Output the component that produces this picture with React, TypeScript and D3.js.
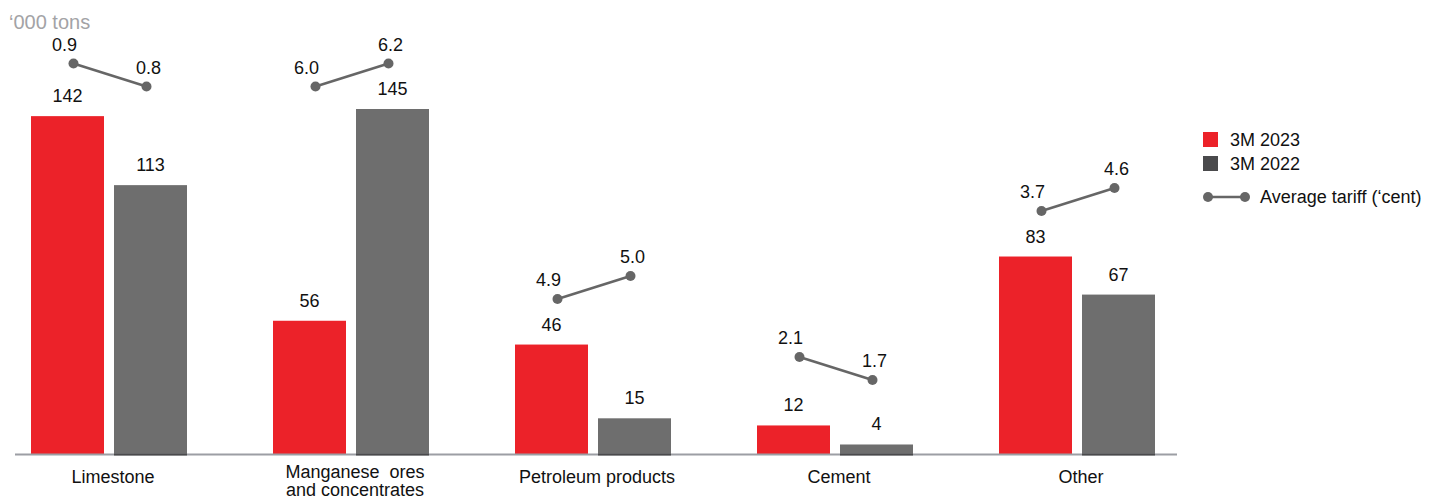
import React from "react";
import * as d3 from "d3";

// Freight volumes by cargo type, thousand tons
const categories = ["Limestone", "Manganese  ores\nand concentrates", "Petroleum products", "Cement", "Other"];
const volume2023 = [142, 56, 46, 12, 83];
const volume2022 = [113, 145, 15, 4, 67];
// Average tariff, cents
const tariff2023 = [0.9, 6.0, 4.9, 2.1, 3.7];
const tariff2022 = [0.8, 6.2, 5.0, 1.7, 4.6];
const seriesNames = ["3M 2023", "3M 2022"];
const tariffName = "Average tariff (\u2018cent)";
const unitLabel = "\u2018000 tons";

const W = 1429;
const H = 499;
const RED = "#ec2229";
const GREY = "#6e6e6e";
const DARK = "#4a4a4c";
const FONT = "'Liberation Sans', Arial, Helvetica, sans-serif";

export default function App() {
  const baseline = 454;
  const y = d3.scaleLinear().domain([0, 145]).range([baseline, baseline - 345]);
  const x = d3.scalePoint<string>().domain(categories).range([109, 1077]);
  const barW = 73;
  const gap = 10;

  const fmt = d3.format(".1f");

  return (
    <svg
      width={W}
      height={H}
      style={{ position: "absolute", left: 0, top: 0, background: "#fff" }}
      fontFamily={FONT}
    >
      <text x={9} y={29} fontSize={20} fill="#a3a3a6">
        {unitLabel}
      </text>

      {categories.map((c, i) => {
        const cx = x(c)!;
        const x23 = cx - gap / 2 - barW;
        const x22 = cx + gap / 2;
        const v23 = volume2023[i];
        const v22 = volume2022[i];
        const top23 = y(v23);
        const top22 = y(v22);
        // tariff pair sits above the taller bar, higher tariff drawn higher
        const mid = Math.max(y(Math.max(v23, v22)) - 57, 75);
        const t23 = tariff2023[i];
        const t22 = tariff2022[i];
        const half = 11.5;
        const ty23 = t23 >= t22 ? mid - half : mid + half;
        const ty22 = t22 > t23 ? mid - half : mid + half;
        const tx23 = x23 + barW / 2 + 6;
        const tx22 = x22 + barW / 2 - 4;
        const lines = c.split("\n");
        return (
          <g key={c}>
            <rect x={x23} y={top23} width={barW} height={baseline - top23} fill={RED} />
            <rect x={x22} y={top22} width={barW} height={baseline - top22} fill={GREY} />
            <text x={x23 + barW / 2} y={top23 - 14} fontSize={18} textAnchor="middle" fill="#111">
              {v23}
            </text>
            <text x={x22 + barW / 2} y={top22 - 14} fontSize={18} textAnchor="middle" fill="#111">
              {v22}
            </text>

            <line x1={tx23} y1={ty23} x2={tx22} y2={ty22} stroke="#666" strokeWidth={2.5} />
            <circle cx={tx23} cy={ty23} r={5} fill="#666" />
            <circle cx={tx22} cy={ty22} r={5} fill="#666" />
            <text x={tx23 - 9} y={ty23 - 13} fontSize={18} textAnchor="middle" fill="#111">
              {fmt(t23)}
            </text>
            <text x={tx22 + 2} y={ty22 - 13} fontSize={18} textAnchor="middle" fill="#111">
              {fmt(t22)}
            </text>

            <text x={cx + 4} y={483} fontSize={18} textAnchor="middle" fill="#111">
              {lines.map((l, k) => (
                <tspan key={k} x={cx + 4} dy={k === 0 ? (lines.length > 1 ? -5 : 0) : 18} style={{ whiteSpace: "pre" }}>
                  {l}
                </tspan>
              ))}
            </text>
          </g>
        );
      })}

      {/* baseline */}
      <line x1={15} x2={1177} y1={baseline + 0.5} y2={baseline + 0.5} stroke="#9c9ea4" strokeWidth={2} />
      {categories.map((c) => {
        const cx = x(c)!;
        return (
          <line
            key={c + "-edge"}
            x1={cx + gap / 2}
            x2={cx + gap / 2 + barW}
            y1={baseline + 0.5}
            y2={baseline + 0.5}
            stroke={DARK}
            strokeWidth={2}
          />
        );
      })}

      {/* legend */}
      <g transform="translate(1203,132)">
        <rect x={0} y={0} width={15} height={15} fill={RED} />
        <text x={27} y={14} fontSize={18} fill="#111">
          {seriesNames[0]}
        </text>
        <rect x={0} y={24} width={15} height={15} fill={DARK} />
        <text x={27} y={38} fontSize={18} fill="#111">
          {seriesNames[1]}
        </text>
        <line x1={5} x2={42} y1={65} y2={65} stroke="#666" strokeWidth={2.5} />
        <circle cx={5} cy={65} r={5} fill="#666" />
        <circle cx={42} cy={65} r={5} fill="#666" />
        <text x={57} y={71} fontSize={18} fill="#111">
          {tariffName}
        </text>
      </g>
    </svg>
  );
}
